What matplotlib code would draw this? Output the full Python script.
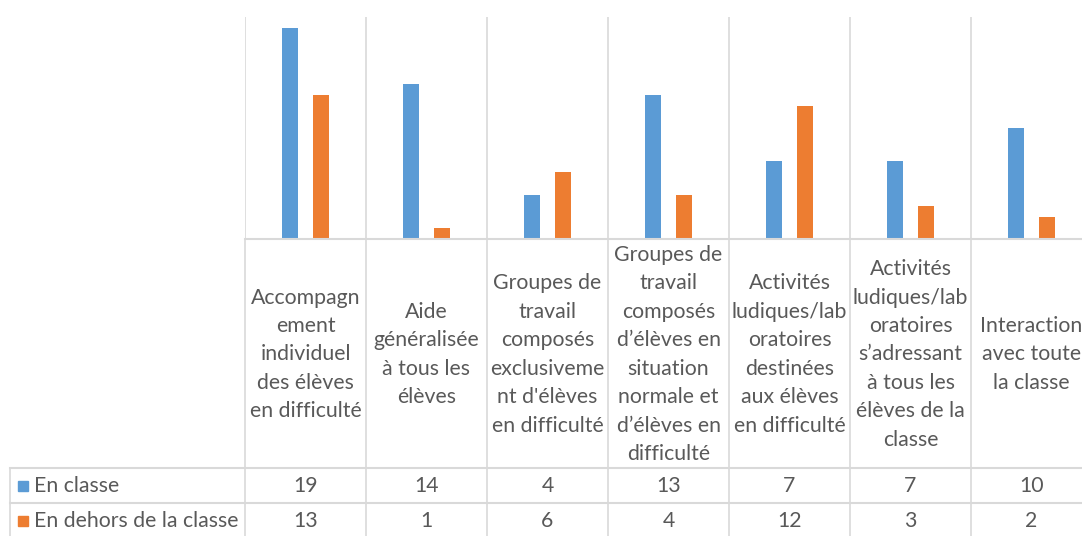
import matplotlib.pyplot as plt
import numpy as np

# donnees
categories = [
    "Accompagn\nement\nindividuel\ndes élèves\nen difficulté",
    "Aide\ngénéralisée\nà tous les\nélèves",
    "Groupes de\ntravail\ncomposés\nexclusiveme\nnt d'élèves\nen difficulté",
    "Groupes de\ntravail\ncomposés\nd’élèves en\nsituation\nnormale et\nd’élèves en\ndifficulté",
    "Activités\nludiques/lab\noratoires\ndestinées\naux élèves\nen difficulté",
    "Activités\nludiques/lab\noratoires\ns’adressant\nà tous les\nélèves de la\nclasse",
    "Interaction\navec toute\nla classe",
]
series_names = ["En classe", "En dehors de la classe"]
en_classe = [19, 14, 4, 13, 7, 7, 10]
en_dehors = [13, 1, 6, 4, 12, 3, 2]

blue = "#5B9BD5"
orange = "#ED7D31"
grid = "#D9D9D9"
txt = "#595959"
font = "Lato"
fs = 15.3

W, H = 1082, 536
fig = plt.figure(figsize=(W / 100, H / 100), dpi=100)

# zone des barres : x de 245 a 1092 px, y de 17 a 239 px
left = 245 / W
width = 847 / W
base = 239
ax = fig.add_axes([left, 1 - base / H, width, (base - 17) / H])
x = np.arange(len(categories))
bw = 0.132
off = 0.128
ax.bar(x - off, en_classe, bw, color=blue)
ax.bar(x + off, en_dehors, bw, color=orange)
ax.set_xlim(-0.5, len(categories) - 0.5)
ax.set_ylim(0, 20)
for s in ax.spines.values():
    s.set_visible(False)
ax.set_xticks([])
ax.set_yticks([])
for b in np.arange(-0.5, len(categories), 1.0):
    ax.axvline(b, color=grid, lw=1.2, zorder=0)
ax.axhline(0, color=grid, lw=1.5, zorder=3, clip_on=False)

# tableau de donnees sous le graphique
tax = fig.add_axes([left, 0, width, (H - base) / H], sharex=ax)
tax.set_ylim(H - base, 0)
tax.axis("off")
tab_left = -0.5 - (245 - 10) / 121
r1, r2 = 468 - base, 503 - base
for b in np.arange(-0.5, len(categories), 1.0):
    tax.plot([b, b], [0, H - base], color=grid, lw=1.2, clip_on=False)
tax.plot([tab_left, tab_left], [r1, H - base], color=grid, lw=1.2, clip_on=False)
for r in (r1, r2):
    tax.plot([tab_left, len(categories) - 0.5], [r, r], color=grid, lw=1.5, clip_on=False)

for i, lab in enumerate(categories):
    tax.text(i, r1 / 2 + 1, lab, ha="center", va="center", fontsize=fs,
             color=txt, family=font, linespacing=1.53, clip_on=False)
    tax.text(i, (r1 + r2) / 2, str(en_classe[i]), ha="center", va="center",
             fontsize=fs, color=txt, family=font, clip_on=False)
    tax.text(i, r2 + 18, str(en_dehors[i]), ha="center", va="center",
             fontsize=fs, color=txt, family=font, clip_on=False)

# legende dans la colonne de gauche
sq = 10 / 121
for name, col, yc in zip(series_names, [blue, orange], [(r1 + r2) / 2, r2 + 18]):
    tax.add_patch(plt.Rectangle((tab_left + 8 / 121, yc - 5), sq, 10, color=col, clip_on=False))
    tax.text(tab_left + 24 / 121, yc, name, ha="left", va="center", fontsize=fs,
             color=txt, family=font, clip_on=False)

fig.savefig("out.png", dpi=100)
